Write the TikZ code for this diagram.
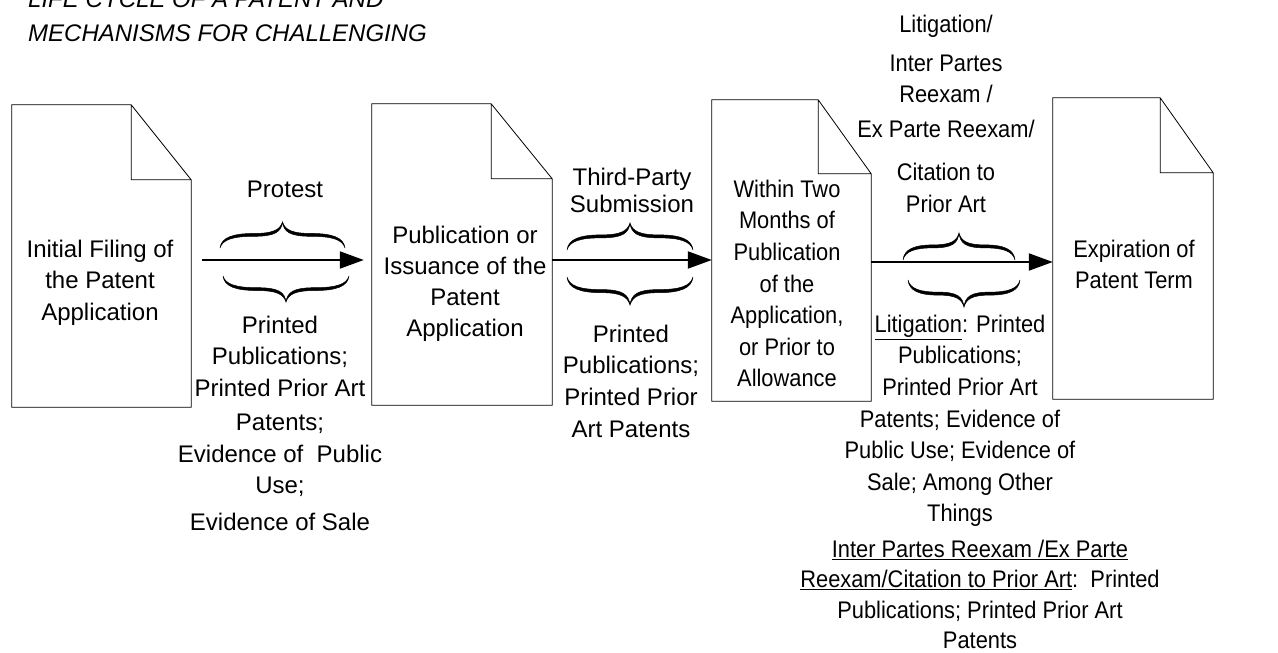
\documentclass[tikz,border=0pt]{standalone}
\usepackage{fontspec}
\setmainfont{Liberation Sans}
\newfontfamily\narrowfont{Liberation Sans}[FakeStretch=0.91]
\usepackage{tikz}
\usetikzlibrary{arrows.meta,positioning,calc}
\newcommand{\docoutline}[3]{%
  \draw[docline] (#1.north west) -- ([xshift=-#2]#1.north east) -- ([yshift=-#3]#1.north east)
    -- (#1.south east) -- (#1.south west) -- cycle
    ([xshift=-#2]#1.north east) |- ([yshift=-#3]#1.north east);}
\tikzset{curly/.pic={
  \filldraw[line width=0.5pt] (-1,0) .. controls (-0.98,0.4) and (-0.8,0.56) .. (-0.45,0.56)
    .. controls (-0.15,0.56) and (-0.04,0.7) .. (0,1)
    .. controls (0.04,0.7) and (0.15,0.56) .. (0.45,0.56)
    .. controls (0.8,0.56) and (0.98,0.4) .. (1,0)
    .. controls (0.96,0.32) and (0.8,0.45) .. (0.45,0.45)
    .. controls (0.12,0.45) and (0.02,0.62) .. (0,1)
    .. controls (-0.02,0.62) and (-0.12,0.45) .. (-0.45,0.45)
    .. controls (-0.8,0.45) and (-0.96,0.32) .. (-1,0) -- cycle;}}

\begin{document}
\begin{tikzpicture}[x=1pt, y=-1pt, every node/.style={inner sep=0pt, align=center},
  lbl/.style={font=\fontsize{24}{31.6}\selectfont},
  nlbl/.style={font=\narrowfont\fontsize{24}{31.6}\selectfont},
  doc/.style={minimum height=301pt},
  docline/.style={line width=0.8pt},
  flow/.style={line width=2pt, -{Triangle[length=24pt,width=17pt]}}]
  \useasboundingbox (0,0) rectangle (1278,653);
  \node[anchor=north west, align=left, font=\itshape\fontsize{24}{33.5}\selectfont] (title) at (28,-9.2)
    {LIFE CYCLE OF A PATENT AND\\MECHANISMS FOR CHALLENGING};
  \node[doc, minimum width=179pt, minimum height=302pt] (d1) at (101.5,256) {};
  \node[doc, minimum width=180pt] (d2) at (462,254.5) {};
  \node[doc, minimum width=159pt] (d3) at (791.5,250.5) {};
  \node[doc, minimum width=160pt] (d4) at (1133,248.5) {};
  \docoutline{d1}{60pt}{75pt}
  \docoutline{d2}{61pt}{75pt}
  \docoutline{d3}{53pt}{74pt}
  \docoutline{d4}{53pt}{75pt}
  \node[lbl, anchor=north] (t1) at (100,239.5) {Initial Filing of\\the Patent\\Application};
  \node[lbl, anchor=north, font=\fontsize{24}{31}\selectfont] (t2) at (465,225.8) {Publication or\\Issuance of the\\Patent\\Application};
  \node[nlbl, anchor=north] (t3) at (787,179.8) {Within Two\\Months of\\Publication\\of the\\Application,\\or Prior to\\Allowance};
  \node[nlbl, anchor=north, font=\narrowfont\fontsize{24}{31}\selectfont] (t4) at (1134,239.8) {Expiration of\\Patent Term};
  \draw[flow, shorten <=11pt, shorten >=8pt] (d1.east |- 0,260) -- (d2.west |- 0,260);
  \draw[flow] (d2.east |- 0,260) -- (d3.west |- 0,260);
  \draw[flow] (d3.east |- 0,262) -- (d4.west |- 0,262);
  \pic[xscale=62.5, yscale=-26] at (282.5,248) {curly};
  \pic[xscale=63, yscale=26] at (286,276) {curly};
  \pic[xscale=63, yscale=-27] at (630,250) {curly};
  \pic[xscale=63, yscale=28] at (630,277) {curly};
  \pic[xscale=56, yscale=-27] at (959,260) {curly};
  \pic[xscale=56, yscale=27] at (964,280) {curly};
  \node[lbl, anchor=base] (protest) at (285,197) {Protest};
  \node[lbl, anchor=north] (ev1) at (280,315.8) {Printed\\Publications;\\Printed Prior Art\\[2.4pt]Patents;\\Evidence of\ \ Public\\Use;\\[5.4pt]Evidence of Sale};
  \node[lbl, anchor=north] (tps) at (632,167.8) {Third-Party\\[-4.6pt]Submission};
  \node[lbl, anchor=north] (ev2) at (631,324.8) {Printed\\Publications;\\Printed Prior\\Art Patents};
  \node[nlbl, anchor=north] (mech) at (946,14.8) {Litigation/\\[7.4pt]Inter Partes\\Reexam /\\[3.4pt]Ex Parte Reexam/\\[11.4pt]Citation to\\Prior Art};
  \node[nlbl, anchor=north] (lit) at (960,314.8) {\underline{Litigation}: Printed\\Publications;\\Printed Prior Art\\Patents; Evidence of\\Public Use; Evidence of\\Sale; Among Other\\Things};
  \node[nlbl, anchor=north, font=\narrowfont\fontsize{24}{30.5}\selectfont] (ipr) at (980,539.8) {\underline{Inter Partes Reexam /Ex Parte}\\\underline{Reexam/Citation to Prior Art}:\ \ Printed\\Publications; Printed Prior Art\\Patents};
\end{tikzpicture}
\end{document}
